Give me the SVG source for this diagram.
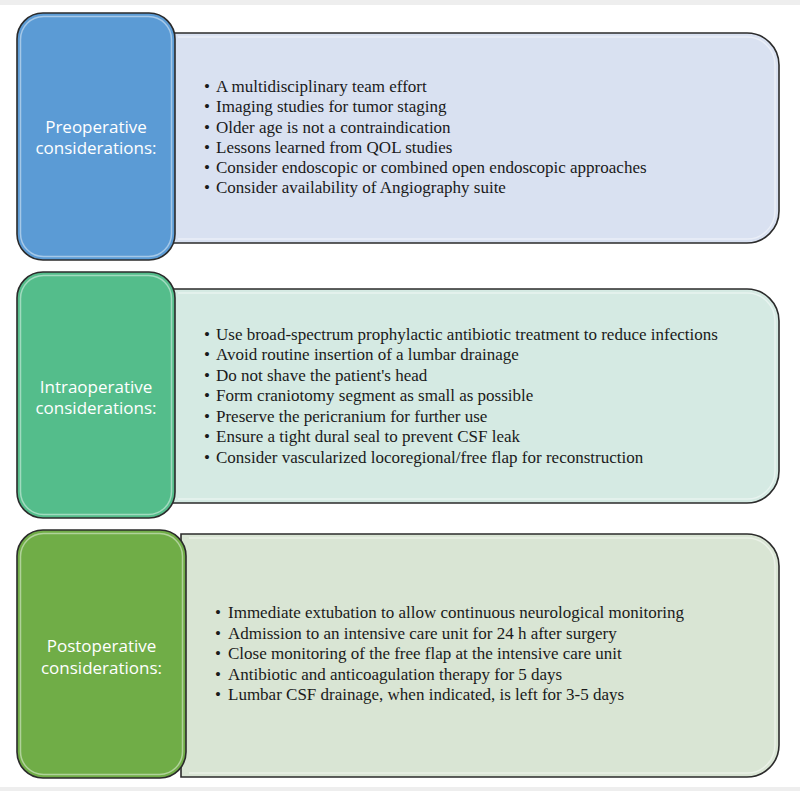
<svg xmlns="http://www.w3.org/2000/svg" width="800" height="791" viewBox="0 0 800 791">
  <style>
    .lbl { font-family: "Open Sans", "Noto Sans", "Liberation Sans", sans-serif; font-size: 17px; fill: #ffffff; text-anchor: middle; }
    .item { font-family: "Liberation Serif", "Times New Roman", serif; font-size: 17px; fill: #1a1a1a; }
    .box { stroke: #2b2b2b; stroke-width: 1.6; }
    .gloss { fill: none; stroke: #ffffff; stroke-opacity: 0.45; stroke-width: 1.5; }
  </style>
  <rect x="0" y="0" width="800" height="791" fill="#ffffff"/>
  <rect x="0" y="0" width="800" height="5" fill="#eeeeee"/>
  <rect x="0" y="787" width="800" height="4" fill="#eeeeee"/>

  <g id="preoperative">
    <path class="box" d="M170,33 H747 A32,32 0 0 1 779,65 V211 A32,32 0 0 1 747,243 H170 Z" fill="#d9e1f1"/>
    <path class="gloss" d="M178,37 H745 A28,28 0 0 1 775,65 V211 A28,28 0 0 1 745,239 H178"/>
    <rect class="box" x="17" y="13" width="158" height="247" rx="26" fill="#5b9bd5"/>
    <rect class="gloss" x="20.5" y="16.5" width="151" height="240" rx="23"/>
    <text class="lbl" x="96" y="133">Preoperative</text>
    <text class="lbl" x="96" y="154">considerations:</text>
    <g class="item">
      <text x="204" y="92">•</text><text x="216" y="92">A multidisciplinary team effort</text>
      <text x="204" y="112">•</text><text x="216" y="112">Imaging studies for tumor staging</text>
      <text x="204" y="133">•</text><text x="216" y="133">Older age is not a contraindication</text>
      <text x="204" y="153">•</text><text x="216" y="153">Lessons learned from QOL studies</text>
      <text x="204" y="173">•</text><text x="216" y="173">Consider endoscopic or combined open endoscopic approaches</text>
      <text x="204" y="193">•</text><text x="216" y="193">Consider availability of Angiography suite</text>
    </g>
  </g>

  <g id="intraoperative">
    <path class="box" d="M170,289 H747 A32,32 0 0 1 779,321 V471 A32,32 0 0 1 747,503 H170 Z" fill="#d5eae3"/>
    <path class="gloss" d="M178,293 H745 A28,28 0 0 1 775,321 V471 A28,28 0 0 1 745,499 H178"/>
    <rect class="box" x="17" y="272" width="158" height="246" rx="26" fill="#54bd8b"/>
    <rect class="gloss" x="20.5" y="275.5" width="151" height="239" rx="23"/>
    <text class="lbl" x="96" y="393">Intraoperative</text>
    <text class="lbl" x="96" y="414">considerations:</text>
    <g class="item">
      <text x="204" y="340">•</text><text x="216" y="340">Use broad-spectrum prophylactic antibiotic treatment to reduce infections</text>
      <text x="204" y="360">•</text><text x="216" y="360">Avoid routine insertion of a lumbar drainage</text>
      <text x="204" y="381">•</text><text x="216" y="381">Do not shave the patient's head</text>
      <text x="204" y="401">•</text><text x="216" y="401">Form craniotomy segment as small as possible</text>
      <text x="204" y="422">•</text><text x="216" y="422">Preserve the pericranium for further use</text>
      <text x="204" y="442">•</text><text x="216" y="442">Ensure a tight dural seal to prevent CSF leak</text>
      <text x="204" y="463">•</text><text x="216" y="463">Consider vascularized locoregional/free flap for reconstruction</text>
    </g>
  </g>

  <g id="postoperative">
    <path class="box" d="M181,534 H747 A32,32 0 0 1 779,566 V745 A32,32 0 0 1 747,777 H181 Z" fill="#d9e5d4"/>
    <path class="gloss" d="M189,538 H745 A28,28 0 0 1 775,566 V745 A28,28 0 0 1 745,773 H189"/>
    <rect class="box" x="17" y="530" width="169" height="248" rx="26" fill="#70ad47"/>
    <rect class="gloss" x="20.5" y="533.5" width="162" height="241" rx="23"/>
    <text class="lbl" x="101.5" y="652">Postoperative</text>
    <text class="lbl" x="101.5" y="674">considerations:</text>
    <g class="item">
      <text x="215" y="618">•</text><text x="228" y="618">Immediate extubation to allow continuous neurological monitoring</text>
      <text x="215" y="639">•</text><text x="228" y="639">Admission to an intensive care unit for 24 h after surgery</text>
      <text x="215" y="659">•</text><text x="228" y="659">Close monitoring of the free flap at the intensive care unit</text>
      <text x="215" y="680">•</text><text x="228" y="680">Antibiotic and anticoagulation therapy for 5 days</text>
      <text x="215" y="700">•</text><text x="228" y="700">Lumbar CSF drainage, when indicated, is left for 3-5 days</text>
    </g>
  </g>

  <g id="connectors"></g>
</svg>
